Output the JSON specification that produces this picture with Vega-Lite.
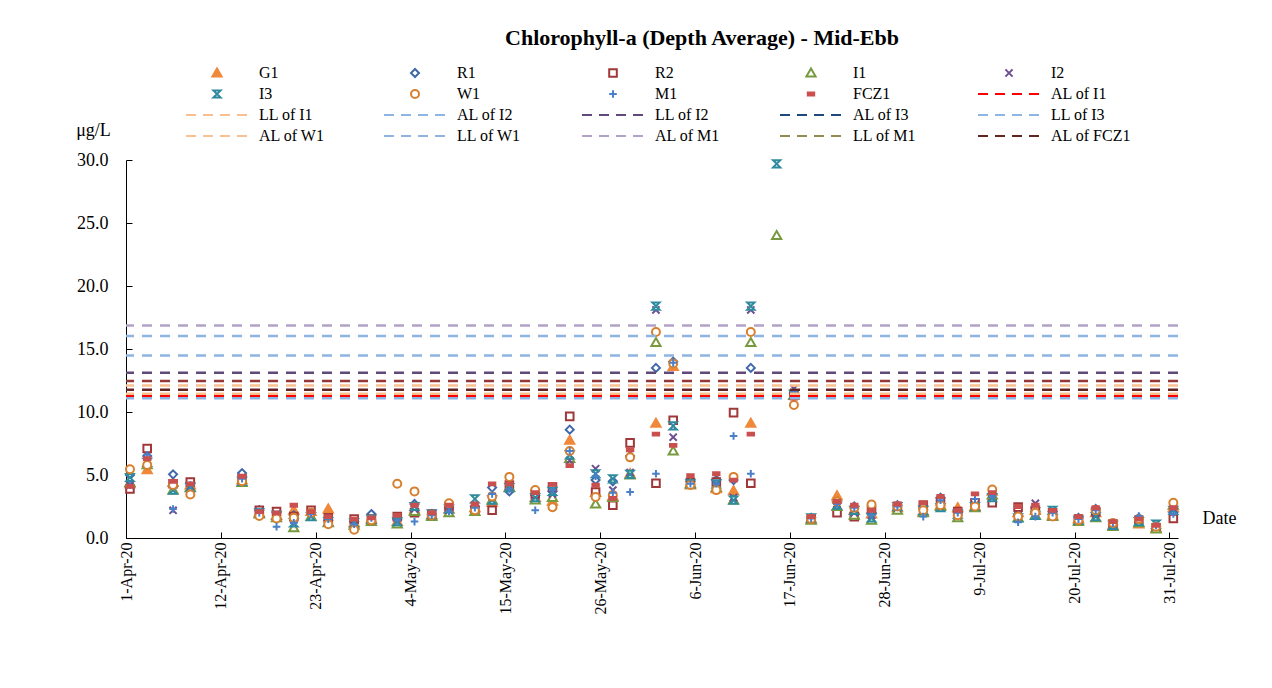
{
"$schema":"https://vega.github.io/schema/vega-lite/v6.json",
"width":1052,"height":378,"autosize":"none",
"padding":{"left":126,"top":160,"right":94,"bottom":150},
"background":"white",
"title":{"text":"Chlorophyll-a (Depth Average) - Mid-Ebb","font":"Liberation Serif","fontSize":22,"fontWeight":"bold","color":"black","anchor":"middle","frame":"group","dx":50,"offset":15},
"datasets":{
"chl":[
{"date":"2020-04-01T11:00","series":"G1","value":4.3},{"date":"2020-04-01T11:00","series":"R1","value":5.0},{"date":"2020-04-01T11:00","series":"R2","value":3.9},{"date":"2020-04-01T11:00","series":"I1","value":4.4},{"date":"2020-04-01T11:00","series":"I2","value":4.2},{"date":"2020-04-01T11:00","series":"I3","value":4.8},{"date":"2020-04-01T11:00","series":"W1","value":5.45},{"date":"2020-04-01T11:00","series":"M1","value":4.2},{"date":"2020-04-01T11:00","series":"FCZ1","value":4.1},
{"date":"2020-04-03T11:00","series":"G1","value":5.4},{"date":"2020-04-03T11:00","series":"R1","value":6.5},{"date":"2020-04-03T11:00","series":"R2","value":7.1},{"date":"2020-04-03T11:00","series":"I1","value":5.8},{"date":"2020-04-03T11:00","series":"I2","value":6.2},{"date":"2020-04-03T11:00","series":"I3","value":6.0},{"date":"2020-04-03T11:00","series":"W1","value":5.8},{"date":"2020-04-03T11:00","series":"M1","value":6.6},{"date":"2020-04-03T11:00","series":"FCZ1","value":6.3},
{"date":"2020-04-06T11:00","series":"G1","value":4.4},{"date":"2020-04-06T11:00","series":"R1","value":5.05},{"date":"2020-04-06T11:00","series":"R2","value":4.3},{"date":"2020-04-06T11:00","series":"I1","value":3.8},{"date":"2020-04-06T11:00","series":"I2","value":2.2},{"date":"2020-04-06T11:00","series":"I3","value":3.8},{"date":"2020-04-06T11:00","series":"W1","value":4.2},{"date":"2020-04-06T11:00","series":"M1","value":2.3},{"date":"2020-04-06T11:00","series":"FCZ1","value":4.5},
{"date":"2020-04-08T11:00","series":"G1","value":4.2},{"date":"2020-04-08T11:00","series":"R1","value":4.4},{"date":"2020-04-08T11:00","series":"R2","value":4.45},{"date":"2020-04-08T11:00","series":"I1","value":4.0},{"date":"2020-04-08T11:00","series":"I2","value":4.1},{"date":"2020-04-08T11:00","series":"I3","value":4.0},{"date":"2020-04-08T11:00","series":"W1","value":3.45},{"date":"2020-04-08T11:00","series":"M1","value":4.2},{"date":"2020-04-08T11:00","series":"FCZ1","value":4.3},
{"date":"2020-04-14T11:00","series":"G1","value":4.6},{"date":"2020-04-14T11:00","series":"R1","value":5.15},{"date":"2020-04-14T11:00","series":"R2","value":4.7},{"date":"2020-04-14T11:00","series":"I1","value":4.4},{"date":"2020-04-14T11:00","series":"I2","value":4.6},{"date":"2020-04-14T11:00","series":"I3","value":4.5},{"date":"2020-04-14T11:00","series":"W1","value":4.5},{"date":"2020-04-14T11:00","series":"M1","value":4.7},{"date":"2020-04-14T11:00","series":"FCZ1","value":4.9},
{"date":"2020-04-16T11:00","series":"G1","value":2.0},{"date":"2020-04-16T11:00","series":"R1","value":2.2},{"date":"2020-04-16T11:00","series":"R2","value":2.2},{"date":"2020-04-16T11:00","series":"I1","value":1.9},{"date":"2020-04-16T11:00","series":"I2","value":2.1},{"date":"2020-04-16T11:00","series":"I3","value":2.0},{"date":"2020-04-16T11:00","series":"W1","value":1.75},{"date":"2020-04-16T11:00","series":"M1","value":2.0},{"date":"2020-04-16T11:00","series":"FCZ1","value":2.1},
{"date":"2020-04-18T11:00","series":"G1","value":1.8},{"date":"2020-04-18T11:00","series":"R1","value":2.0},{"date":"2020-04-18T11:00","series":"R2","value":2.1},{"date":"2020-04-18T11:00","series":"I1","value":1.6},{"date":"2020-04-18T11:00","series":"I2","value":1.9},{"date":"2020-04-18T11:00","series":"I3","value":1.8},{"date":"2020-04-18T11:00","series":"W1","value":1.55},{"date":"2020-04-18T11:00","series":"M1","value":0.9},{"date":"2020-04-18T11:00","series":"FCZ1","value":2.0},
{"date":"2020-04-20T11:00","series":"G1","value":2.2},{"date":"2020-04-20T11:00","series":"R1","value":1.8},{"date":"2020-04-20T11:00","series":"R2","value":1.7},{"date":"2020-04-20T11:00","series":"I1","value":0.8},{"date":"2020-04-20T11:00","series":"I2","value":1.5},{"date":"2020-04-20T11:00","series":"I3","value":1.2},{"date":"2020-04-20T11:00","series":"W1","value":1.6},{"date":"2020-04-20T11:00","series":"M1","value":1.2},{"date":"2020-04-20T11:00","series":"FCZ1","value":2.6},
{"date":"2020-04-22T11:00","series":"G1","value":2.1},{"date":"2020-04-22T11:00","series":"R1","value":2.0},{"date":"2020-04-22T11:00","series":"R2","value":2.2},{"date":"2020-04-22T11:00","series":"I1","value":1.7},{"date":"2020-04-22T11:00","series":"I2","value":2.0},{"date":"2020-04-22T11:00","series":"I3","value":1.7},{"date":"2020-04-22T11:00","series":"W1","value":2.0},{"date":"2020-04-22T11:00","series":"M1","value":1.9},{"date":"2020-04-22T11:00","series":"FCZ1","value":2.1},
{"date":"2020-04-24T11:00","series":"G1","value":2.3},{"date":"2020-04-24T11:00","series":"R1","value":1.4},{"date":"2020-04-24T11:00","series":"R2","value":1.6},{"date":"2020-04-24T11:00","series":"I1","value":1.2},{"date":"2020-04-24T11:00","series":"I2","value":1.4},{"date":"2020-04-24T11:00","series":"I3","value":1.3},{"date":"2020-04-24T11:00","series":"W1","value":1.1},{"date":"2020-04-24T11:00","series":"M1","value":1.5},{"date":"2020-04-24T11:00","series":"FCZ1","value":1.7},
{"date":"2020-04-27T11:00","series":"G1","value":1.2},{"date":"2020-04-27T11:00","series":"R1","value":1.3},{"date":"2020-04-27T11:00","series":"R2","value":1.5},{"date":"2020-04-27T11:00","series":"I1","value":1.0},{"date":"2020-04-27T11:00","series":"I2","value":1.2},{"date":"2020-04-27T11:00","series":"I3","value":1.2},{"date":"2020-04-27T11:00","series":"W1","value":0.65},{"date":"2020-04-27T11:00","series":"M1","value":1.1},{"date":"2020-04-27T11:00","series":"FCZ1","value":1.5},
{"date":"2020-04-29T11:00","series":"G1","value":1.5},{"date":"2020-04-29T11:00","series":"R1","value":1.9},{"date":"2020-04-29T11:00","series":"R2","value":1.5},{"date":"2020-04-29T11:00","series":"I1","value":1.3},{"date":"2020-04-29T11:00","series":"I2","value":1.4},{"date":"2020-04-29T11:00","series":"I3","value":1.5},{"date":"2020-04-29T11:00","series":"W1","value":1.4},{"date":"2020-04-29T11:00","series":"M1","value":1.6},{"date":"2020-04-29T11:00","series":"FCZ1","value":1.6},
{"date":"2020-05-02T11:00","series":"G1","value":1.3},{"date":"2020-05-02T11:00","series":"R1","value":1.5},{"date":"2020-05-02T11:00","series":"R2","value":1.7},{"date":"2020-05-02T11:00","series":"I1","value":1.1},{"date":"2020-05-02T11:00","series":"I2","value":1.3},{"date":"2020-05-02T11:00","series":"I3","value":1.3},{"date":"2020-05-02T11:00","series":"W1","value":4.3},{"date":"2020-05-02T11:00","series":"M1","value":1.4},{"date":"2020-05-02T11:00","series":"FCZ1","value":1.8},
{"date":"2020-05-04T11:00","series":"G1","value":2.2},{"date":"2020-05-04T11:00","series":"R1","value":2.7},{"date":"2020-05-04T11:00","series":"R2","value":2.0},{"date":"2020-05-04T11:00","series":"I1","value":2.1},{"date":"2020-05-04T11:00","series":"I2","value":2.3},{"date":"2020-05-04T11:00","series":"I3","value":2.5},{"date":"2020-05-04T11:00","series":"W1","value":3.7},{"date":"2020-05-04T11:00","series":"M1","value":1.3},{"date":"2020-05-04T11:00","series":"FCZ1","value":2.6},
{"date":"2020-05-06T11:00","series":"G1","value":1.8},{"date":"2020-05-06T11:00","series":"R1","value":1.9},{"date":"2020-05-06T11:00","series":"R2","value":1.9},{"date":"2020-05-06T11:00","series":"I1","value":1.7},{"date":"2020-05-06T11:00","series":"I2","value":1.8},{"date":"2020-05-06T11:00","series":"I3","value":1.9},{"date":"2020-05-06T11:00","series":"W1","value":1.8},{"date":"2020-05-06T11:00","series":"M1","value":1.8},{"date":"2020-05-06T11:00","series":"FCZ1","value":2.0},
{"date":"2020-05-08T11:00","series":"G1","value":2.3},{"date":"2020-05-08T11:00","series":"R1","value":2.4},{"date":"2020-05-08T11:00","series":"R2","value":2.5},{"date":"2020-05-08T11:00","series":"I1","value":2.0},{"date":"2020-05-08T11:00","series":"I2","value":2.2},{"date":"2020-05-08T11:00","series":"I3","value":2.3},{"date":"2020-05-08T11:00","series":"W1","value":2.75},{"date":"2020-05-08T11:00","series":"M1","value":2.1},{"date":"2020-05-08T11:00","series":"FCZ1","value":2.6},
{"date":"2020-05-11T11:00","series":"G1","value":2.4},{"date":"2020-05-11T11:00","series":"R1","value":2.5},{"date":"2020-05-11T11:00","series":"R2","value":2.2},{"date":"2020-05-11T11:00","series":"I1","value":2.1},{"date":"2020-05-11T11:00","series":"I2","value":2.3},{"date":"2020-05-11T11:00","series":"I3","value":3.1},{"date":"2020-05-11T11:00","series":"W1","value":2.2},{"date":"2020-05-11T11:00","series":"M1","value":2.4},{"date":"2020-05-11T11:00","series":"FCZ1","value":2.7},
{"date":"2020-05-13T11:00","series":"G1","value":2.8},{"date":"2020-05-13T11:00","series":"R1","value":4.0},{"date":"2020-05-13T11:00","series":"R2","value":2.2},{"date":"2020-05-13T11:00","series":"I1","value":3.0},{"date":"2020-05-13T11:00","series":"I2","value":3.3},{"date":"2020-05-13T11:00","series":"I3","value":3.0},{"date":"2020-05-13T11:00","series":"W1","value":3.3},{"date":"2020-05-13T11:00","series":"M1","value":3.5},{"date":"2020-05-13T11:00","series":"FCZ1","value":4.3},
{"date":"2020-05-15T11:00","series":"G1","value":4.0},{"date":"2020-05-15T11:00","series":"R1","value":3.7},{"date":"2020-05-15T11:00","series":"R2","value":4.2},{"date":"2020-05-15T11:00","series":"I1","value":4.0},{"date":"2020-05-15T11:00","series":"I2","value":4.1},{"date":"2020-05-15T11:00","series":"I3","value":4.0},{"date":"2020-05-15T11:00","series":"W1","value":4.85},{"date":"2020-05-15T11:00","series":"M1","value":3.9},{"date":"2020-05-15T11:00","series":"FCZ1","value":4.3},
{"date":"2020-05-18T11:00","series":"G1","value":3.2},{"date":"2020-05-18T11:00","series":"R1","value":3.4},{"date":"2020-05-18T11:00","series":"R2","value":3.5},{"date":"2020-05-18T11:00","series":"I1","value":3.0},{"date":"2020-05-18T11:00","series":"I2","value":3.3},{"date":"2020-05-18T11:00","series":"I3","value":3.2},{"date":"2020-05-18T11:00","series":"W1","value":3.8},{"date":"2020-05-18T11:00","series":"M1","value":2.2},{"date":"2020-05-18T11:00","series":"FCZ1","value":3.6},
{"date":"2020-05-20T11:00","series":"G1","value":2.9},{"date":"2020-05-20T11:00","series":"R1","value":3.7},{"date":"2020-05-20T11:00","series":"R2","value":4.05},{"date":"2020-05-20T11:00","series":"I1","value":3.2},{"date":"2020-05-20T11:00","series":"I2","value":3.5},{"date":"2020-05-20T11:00","series":"I3","value":3.7},{"date":"2020-05-20T11:00","series":"W1","value":2.45},{"date":"2020-05-20T11:00","series":"M1","value":3.8},{"date":"2020-05-20T11:00","series":"FCZ1","value":4.25},
{"date":"2020-05-22T11:00","series":"G1","value":7.75},{"date":"2020-05-22T11:00","series":"R1","value":8.6},{"date":"2020-05-22T11:00","series":"R2","value":9.65},{"date":"2020-05-22T11:00","series":"I1","value":6.3},{"date":"2020-05-22T11:00","series":"I2","value":6.15},{"date":"2020-05-22T11:00","series":"I3","value":6.6},{"date":"2020-05-22T11:00","series":"W1","value":6.9},{"date":"2020-05-22T11:00","series":"M1","value":6.9},{"date":"2020-05-22T11:00","series":"FCZ1","value":5.75},
{"date":"2020-05-25T11:00","series":"G1","value":3.6},{"date":"2020-05-25T11:00","series":"R1","value":4.6},{"date":"2020-05-25T11:00","series":"R2","value":3.65},{"date":"2020-05-25T11:00","series":"I1","value":2.7},{"date":"2020-05-25T11:00","series":"I2","value":5.5},{"date":"2020-05-25T11:00","series":"I3","value":5.1},{"date":"2020-05-25T11:00","series":"W1","value":3.25},{"date":"2020-05-25T11:00","series":"M1","value":4.9},{"date":"2020-05-25T11:00","series":"FCZ1","value":4.2},
{"date":"2020-05-27T11:00","series":"G1","value":3.3},{"date":"2020-05-27T11:00","series":"R1","value":4.5},{"date":"2020-05-27T11:00","series":"R2","value":2.6},{"date":"2020-05-27T11:00","series":"I1","value":3.2},{"date":"2020-05-27T11:00","series":"I2","value":3.8},{"date":"2020-05-27T11:00","series":"I3","value":4.7},{"date":"2020-05-27T11:00","series":"W1","value":3.4},{"date":"2020-05-27T11:00","series":"M1","value":3.6},{"date":"2020-05-27T11:00","series":"FCZ1","value":3.15},
{"date":"2020-05-29T11:00","series":"G1","value":5.1},{"date":"2020-05-29T11:00","series":"R1","value":6.5},{"date":"2020-05-29T11:00","series":"R2","value":7.55},{"date":"2020-05-29T11:00","series":"I1","value":5.0},{"date":"2020-05-29T11:00","series":"I2","value":5.2},{"date":"2020-05-29T11:00","series":"I3","value":5.05},{"date":"2020-05-29T11:00","series":"W1","value":6.4},{"date":"2020-05-29T11:00","series":"M1","value":3.65},{"date":"2020-05-29T11:00","series":"FCZ1","value":7.0},
{"date":"2020-06-01T11:00","series":"G1","value":9.1},{"date":"2020-06-01T11:00","series":"R1","value":13.5},{"date":"2020-06-01T11:00","series":"R2","value":4.35},{"date":"2020-06-01T11:00","series":"I1","value":15.5},{"date":"2020-06-01T11:00","series":"I2","value":18.1},{"date":"2020-06-01T11:00","series":"I3","value":18.4},{"date":"2020-06-01T11:00","series":"W1","value":16.35},{"date":"2020-06-01T11:00","series":"M1","value":5.1},{"date":"2020-06-01T11:00","series":"FCZ1","value":8.25},
{"date":"2020-06-03T11:00","series":"G1","value":13.6},{"date":"2020-06-03T11:00","series":"R1","value":14.0},{"date":"2020-06-03T11:00","series":"R2","value":9.35},{"date":"2020-06-03T11:00","series":"I1","value":6.9},{"date":"2020-06-03T11:00","series":"I2","value":8.0},{"date":"2020-06-03T11:00","series":"I3","value":8.9},{"date":"2020-06-03T11:00","series":"W1","value":13.85},{"date":"2020-06-03T11:00","series":"M1","value":13.9},{"date":"2020-06-03T11:00","series":"FCZ1","value":7.35},
{"date":"2020-06-05T11:00","series":"G1","value":4.2},{"date":"2020-06-05T11:00","series":"R1","value":4.5},{"date":"2020-06-05T11:00","series":"R2","value":4.4},{"date":"2020-06-05T11:00","series":"I1","value":4.3},{"date":"2020-06-05T11:00","series":"I2","value":4.4},{"date":"2020-06-05T11:00","series":"I3","value":4.3},{"date":"2020-06-05T11:00","series":"W1","value":4.2},{"date":"2020-06-05T11:00","series":"M1","value":4.3},{"date":"2020-06-05T11:00","series":"FCZ1","value":4.95},
{"date":"2020-06-08T11:00","series":"G1","value":3.9},{"date":"2020-06-08T11:00","series":"R1","value":4.6},{"date":"2020-06-08T11:00","series":"R2","value":4.45},{"date":"2020-06-08T11:00","series":"I1","value":4.0},{"date":"2020-06-08T11:00","series":"I2","value":4.2},{"date":"2020-06-08T11:00","series":"I3","value":4.3},{"date":"2020-06-08T11:00","series":"W1","value":3.8},{"date":"2020-06-08T11:00","series":"M1","value":4.3},{"date":"2020-06-08T11:00","series":"FCZ1","value":5.1},
{"date":"2020-06-10T11:00","series":"G1","value":3.75},{"date":"2020-06-10T11:00","series":"R1","value":4.6},{"date":"2020-06-10T11:00","series":"R2","value":9.95},{"date":"2020-06-10T11:00","series":"I1","value":3.0},{"date":"2020-06-10T11:00","series":"I2","value":3.2},{"date":"2020-06-10T11:00","series":"I3","value":3.0},{"date":"2020-06-10T11:00","series":"W1","value":4.85},{"date":"2020-06-10T11:00","series":"M1","value":8.1},{"date":"2020-06-10T11:00","series":"FCZ1","value":4.6},
{"date":"2020-06-12T11:00","series":"G1","value":9.1},{"date":"2020-06-12T11:00","series":"R1","value":13.5},{"date":"2020-06-12T11:00","series":"R2","value":4.35},{"date":"2020-06-12T11:00","series":"I1","value":15.5},{"date":"2020-06-12T11:00","series":"I2","value":18.1},{"date":"2020-06-12T11:00","series":"I3","value":18.4},{"date":"2020-06-12T11:00","series":"W1","value":16.35},{"date":"2020-06-12T11:00","series":"M1","value":5.1},{"date":"2020-06-12T11:00","series":"FCZ1","value":8.25},
{"date":"2020-06-15T11:00","series":"I1","value":24.0},{"date":"2020-06-15T11:00","series":"I3","value":29.7},
{"date":"2020-06-17T11:00","series":"G1","value":11.3},{"date":"2020-06-17T11:00","series":"R1","value":11.5},{"date":"2020-06-17T11:00","series":"R2","value":11.4},{"date":"2020-06-17T11:00","series":"I1","value":11.3},{"date":"2020-06-17T11:00","series":"I2","value":11.85},{"date":"2020-06-17T11:00","series":"I3","value":11.4},{"date":"2020-06-17T11:00","series":"W1","value":10.55},{"date":"2020-06-17T11:00","series":"M1","value":11.6},{"date":"2020-06-17T11:00","series":"FCZ1","value":11.1},
{"date":"2020-06-19T11:00","series":"G1","value":1.5},{"date":"2020-06-19T11:00","series":"R1","value":1.6},{"date":"2020-06-19T11:00","series":"R2","value":1.5},{"date":"2020-06-19T11:00","series":"I1","value":1.4},{"date":"2020-06-19T11:00","series":"I2","value":1.5},{"date":"2020-06-19T11:00","series":"I3","value":1.6},{"date":"2020-06-19T11:00","series":"W1","value":1.5},{"date":"2020-06-19T11:00","series":"M1","value":1.55},{"date":"2020-06-19T11:00","series":"FCZ1","value":1.7},
{"date":"2020-06-22T11:00","series":"G1","value":3.35},{"date":"2020-06-22T11:00","series":"R1","value":2.8},{"date":"2020-06-22T11:00","series":"R2","value":2.0},{"date":"2020-06-22T11:00","series":"I1","value":2.5},{"date":"2020-06-22T11:00","series":"I2","value":2.7},{"date":"2020-06-22T11:00","series":"I3","value":2.6},{"date":"2020-06-22T11:00","series":"W1","value":2.9},{"date":"2020-06-22T11:00","series":"M1","value":2.7},{"date":"2020-06-22T11:00","series":"FCZ1","value":2.9},
{"date":"2020-06-24T11:00","series":"G1","value":2.2},{"date":"2020-06-24T11:00","series":"R1","value":2.5},{"date":"2020-06-24T11:00","series":"R2","value":1.7},{"date":"2020-06-24T11:00","series":"I1","value":1.8},{"date":"2020-06-24T11:00","series":"I2","value":2.0},{"date":"2020-06-24T11:00","series":"I3","value":2.2},{"date":"2020-06-24T11:00","series":"W1","value":2.4},{"date":"2020-06-24T11:00","series":"M1","value":2.4},{"date":"2020-06-24T11:00","series":"FCZ1","value":2.6},
{"date":"2020-06-26T11:00","series":"G1","value":1.9},{"date":"2020-06-26T11:00","series":"R1","value":2.0},{"date":"2020-06-26T11:00","series":"R2","value":2.2},{"date":"2020-06-26T11:00","series":"I1","value":1.4},{"date":"2020-06-26T11:00","series":"I2","value":1.8},{"date":"2020-06-26T11:00","series":"I3","value":1.6},{"date":"2020-06-26T11:00","series":"W1","value":2.65},{"date":"2020-06-26T11:00","series":"M1","value":1.8},{"date":"2020-06-26T11:00","series":"FCZ1","value":2.2},
{"date":"2020-06-29T11:00","series":"G1","value":2.4},{"date":"2020-06-29T11:00","series":"R1","value":2.6},{"date":"2020-06-29T11:00","series":"R2","value":2.5},{"date":"2020-06-29T11:00","series":"I1","value":2.2},{"date":"2020-06-29T11:00","series":"I2","value":2.4},{"date":"2020-06-29T11:00","series":"I3","value":2.5},{"date":"2020-06-29T11:00","series":"W1","value":2.5},{"date":"2020-06-29T11:00","series":"M1","value":2.5},{"date":"2020-06-29T11:00","series":"FCZ1","value":2.7},
{"date":"2020-07-02T11:00","series":"G1","value":2.1},{"date":"2020-07-02T11:00","series":"R1","value":2.5},{"date":"2020-07-02T11:00","series":"R2","value":2.6},{"date":"2020-07-02T11:00","series":"I1","value":2.0},{"date":"2020-07-02T11:00","series":"I2","value":2.3},{"date":"2020-07-02T11:00","series":"I3","value":2.2},{"date":"2020-07-02T11:00","series":"W1","value":2.2},{"date":"2020-07-02T11:00","series":"M1","value":1.7},{"date":"2020-07-02T11:00","series":"FCZ1","value":2.8},
{"date":"2020-07-04T11:00","series":"G1","value":2.6},{"date":"2020-07-04T11:00","series":"R1","value":3.2},{"date":"2020-07-04T11:00","series":"R2","value":2.9},{"date":"2020-07-04T11:00","series":"I1","value":2.5},{"date":"2020-07-04T11:00","series":"I2","value":2.7},{"date":"2020-07-04T11:00","series":"I3","value":2.4},{"date":"2020-07-04T11:00","series":"W1","value":2.6},{"date":"2020-07-04T11:00","series":"M1","value":3.0},{"date":"2020-07-04T11:00","series":"FCZ1","value":3.3},
{"date":"2020-07-06T11:00","series":"G1","value":2.4},{"date":"2020-07-06T11:00","series":"R1","value":2.0},{"date":"2020-07-06T11:00","series":"R2","value":2.1},{"date":"2020-07-06T11:00","series":"I1","value":1.6},{"date":"2020-07-06T11:00","series":"I2","value":1.8},{"date":"2020-07-06T11:00","series":"I3","value":1.9},{"date":"2020-07-06T11:00","series":"W1","value":1.8},{"date":"2020-07-06T11:00","series":"M1","value":2.0},{"date":"2020-07-06T11:00","series":"FCZ1","value":2.2},
{"date":"2020-07-08T11:00","series":"G1","value":2.5},{"date":"2020-07-08T11:00","series":"R1","value":2.5},{"date":"2020-07-08T11:00","series":"R2","value":2.8},{"date":"2020-07-08T11:00","series":"I1","value":2.4},{"date":"2020-07-08T11:00","series":"I2","value":2.6},{"date":"2020-07-08T11:00","series":"I3","value":2.5},{"date":"2020-07-08T11:00","series":"W1","value":2.5},{"date":"2020-07-08T11:00","series":"M1","value":3.1},{"date":"2020-07-08T11:00","series":"FCZ1","value":3.5},
{"date":"2020-07-10T11:00","series":"G1","value":3.7},{"date":"2020-07-10T11:00","series":"R1","value":3.5},{"date":"2020-07-10T11:00","series":"R2","value":2.8},{"date":"2020-07-10T11:00","series":"I1","value":3.4},{"date":"2020-07-10T11:00","series":"I2","value":3.5},{"date":"2020-07-10T11:00","series":"I3","value":3.2},{"date":"2020-07-10T11:00","series":"W1","value":3.85},{"date":"2020-07-10T11:00","series":"M1","value":3.3},{"date":"2020-07-10T11:00","series":"FCZ1","value":3.6},
{"date":"2020-07-13T11:00","series":"G1","value":2.0},{"date":"2020-07-13T11:00","series":"R1","value":1.8},{"date":"2020-07-13T11:00","series":"R2","value":2.45},{"date":"2020-07-13T11:00","series":"I1","value":1.6},{"date":"2020-07-13T11:00","series":"I2","value":1.8},{"date":"2020-07-13T11:00","series":"I3","value":1.6},{"date":"2020-07-13T11:00","series":"W1","value":1.7},{"date":"2020-07-13T11:00","series":"M1","value":1.25},{"date":"2020-07-13T11:00","series":"FCZ1","value":2.5},
{"date":"2020-07-15T11:00","series":"G1","value":2.2},{"date":"2020-07-15T11:00","series":"R1","value":2.4},{"date":"2020-07-15T11:00","series":"R2","value":2.2},{"date":"2020-07-15T11:00","series":"I1","value":1.8},{"date":"2020-07-15T11:00","series":"I2","value":2.75},{"date":"2020-07-15T11:00","series":"I3","value":1.8},{"date":"2020-07-15T11:00","series":"W1","value":2.0},{"date":"2020-07-15T11:00","series":"M1","value":1.7},{"date":"2020-07-15T11:00","series":"FCZ1","value":2.6},
{"date":"2020-07-17T11:00","series":"G1","value":1.8},{"date":"2020-07-17T11:00","series":"R1","value":2.1},{"date":"2020-07-17T11:00","series":"R2","value":2.0},{"date":"2020-07-17T11:00","series":"I1","value":1.7},{"date":"2020-07-17T11:00","series":"I2","value":1.9},{"date":"2020-07-17T11:00","series":"I3","value":2.2},{"date":"2020-07-17T11:00","series":"W1","value":1.7},{"date":"2020-07-17T11:00","series":"M1","value":2.0},{"date":"2020-07-17T11:00","series":"FCZ1","value":2.2},
{"date":"2020-07-20T11:00","series":"G1","value":1.5},{"date":"2020-07-20T11:00","series":"R1","value":1.6},{"date":"2020-07-20T11:00","series":"R2","value":1.5},{"date":"2020-07-20T11:00","series":"I1","value":1.3},{"date":"2020-07-20T11:00","series":"I2","value":1.5},{"date":"2020-07-20T11:00","series":"I3","value":1.4},{"date":"2020-07-20T11:00","series":"W1","value":1.4},{"date":"2020-07-20T11:00","series":"M1","value":1.5},{"date":"2020-07-20T11:00","series":"FCZ1","value":1.7},
{"date":"2020-07-22T11:00","series":"G1","value":2.0},{"date":"2020-07-22T11:00","series":"R1","value":2.3},{"date":"2020-07-22T11:00","series":"R2","value":2.1},{"date":"2020-07-22T11:00","series":"I1","value":1.6},{"date":"2020-07-22T11:00","series":"I2","value":1.9},{"date":"2020-07-22T11:00","series":"I3","value":1.7},{"date":"2020-07-22T11:00","series":"W1","value":2.2},{"date":"2020-07-22T11:00","series":"M1","value":2.2},{"date":"2020-07-22T11:00","series":"FCZ1","value":2.4},
{"date":"2020-07-24T11:00","series":"G1","value":1.0},{"date":"2020-07-24T11:00","series":"R1","value":1.1},{"date":"2020-07-24T11:00","series":"R2","value":1.1},{"date":"2020-07-24T11:00","series":"I1","value":0.9},{"date":"2020-07-24T11:00","series":"I2","value":1.0},{"date":"2020-07-24T11:00","series":"I3","value":1.0},{"date":"2020-07-24T11:00","series":"W1","value":1.2},{"date":"2020-07-24T11:00","series":"M1","value":1.2},{"date":"2020-07-24T11:00","series":"FCZ1","value":1.3},
{"date":"2020-07-27T11:00","series":"G1","value":1.1},{"date":"2020-07-27T11:00","series":"R1","value":1.6},{"date":"2020-07-27T11:00","series":"R2","value":1.4},{"date":"2020-07-27T11:00","series":"I1","value":1.2},{"date":"2020-07-27T11:00","series":"I2","value":1.4},{"date":"2020-07-27T11:00","series":"I3","value":1.3},{"date":"2020-07-27T11:00","series":"W1","value":1.5},{"date":"2020-07-27T11:00","series":"M1","value":1.75},{"date":"2020-07-27T11:00","series":"FCZ1","value":1.5},
{"date":"2020-07-29T11:00","series":"G1","value":0.8},{"date":"2020-07-29T11:00","series":"R1","value":0.9},{"date":"2020-07-29T11:00","series":"R2","value":0.8},{"date":"2020-07-29T11:00","series":"I1","value":0.7},{"date":"2020-07-29T11:00","series":"I2","value":0.9},{"date":"2020-07-29T11:00","series":"I3","value":1.1},{"date":"2020-07-29T11:00","series":"W1","value":0.9},{"date":"2020-07-29T11:00","series":"M1","value":1.0},{"date":"2020-07-29T11:00","series":"FCZ1","value":1.0},
{"date":"2020-07-31T11:00","series":"G1","value":2.4},{"date":"2020-07-31T11:00","series":"R1","value":2.0},{"date":"2020-07-31T11:00","series":"R2","value":1.55},{"date":"2020-07-31T11:00","series":"I1","value":2.6},{"date":"2020-07-31T11:00","series":"I2","value":2.1},{"date":"2020-07-31T11:00","series":"I3","value":2.2},{"date":"2020-07-31T11:00","series":"W1","value":2.8},{"date":"2020-07-31T11:00","series":"M1","value":1.9},{"date":"2020-07-31T11:00","series":"FCZ1","value":2.4}
],
"limits":[
{"series":"AL of M1","level":16.87},
{"series":"LL of I3","level":16.03},
{"series":"LL of W1","level":14.49},
{"series":"LL of I2","level":13.12},
{"series":"LL of I1","level":12.1},
{"series":"AL of FCZ1","level":11.76},
{"series":"AL of W1","level":11.45},
{"series":"AL of I1","level":11.25},
{"series":"AL of I2","level":11.09}
],
"extra":[{"series":"other level","level":12.46}]
},
"layer":[
{"data":{"name":"chl"},
 "mark":{"type":"point","size":64,"strokeWidth":2,"opacity":1},
 "encoding":{
  "x":{"field":"date","type":"temporal",
   "scale":{"domain":[{"year":2020,"month":4,"date":1},{"year":2020,"month":8,"date":1}]},
   "axis":{"values":[{"year":2020,"month":4,"date":1},{"year":2020,"month":4,"date":12},{"year":2020,"month":4,"date":23},{"year":2020,"month":5,"date":4},{"year":2020,"month":5,"date":15},{"year":2020,"month":5,"date":26},{"year":2020,"month":6,"date":6},{"year":2020,"month":6,"date":17},{"year":2020,"month":6,"date":28},{"year":2020,"month":7,"date":9},{"year":2020,"month":7,"date":20},{"year":2020,"month":7,"date":31}],
    "format":"%-d-%b-%y","labelAngle":270,"labelFontSize":16,"labelPadding":10,"tickSize":-6,
    "title":"Date","titleFontSize":18,"titleX":1093,"titleY":-20,"titleAlign":"center","titleBaseline":"middle","titleAngle":0}},
  "y":{"field":"value","type":"quantitative","scale":{"domain":[0,30],"nice":false},
   "axis":{"values":[0,5,10,15,20,25,30],"format":".1f","labelFontSize":18,"labelPadding":24,"tickSize":-6,
    "title":"μg/L","titleFontSize":18,"titleAngle":0,"titleX":-33,"titleY":-30,"titleAlign":"center","titleBaseline":"middle"}},
  "stroke":{"field":"series","type":"nominal","legend":{"title":null},
   "scale":{"domain":["G1","R1","R2","I1","I2","I3","W1","M1","FCZ1","AL of I1","LL of I1","AL of I2","LL of I2","AL of I3","LL of I3","AL of W1","LL of W1","AL of M1","LL of M1","AL of FCZ1"],
    "range":["#F0883A","#3F68AA","#A0383A","#789A3F","#6E4F92","#2F8A9E","#D7802F","#4A7FC9","#C9504F","#FF0000","#FAC090","#8DB4E2","#604A7B","#1F497D","#8DB4E2","#FAC090","#8DB4E2","#B3A2C7","#948A54","#632523"]}},
  "fill":{"field":"series","type":"nominal","legend":{"title":null},
   "scale":{"domain":["G1","R1","R2","I1","I2","I3","W1","M1","FCZ1","AL of I1","LL of I1","AL of I2","LL of I2","AL of I3","LL of I3","AL of W1","LL of W1","AL of M1","LL of M1","AL of FCZ1"],
    "range":["#F0883A","white","white","white","white","white","white","white","#C9504F","transparent","transparent","transparent","transparent","transparent","transparent","transparent","transparent","transparent","transparent","transparent"]}},
  "shape":{"field":"series","type":"nominal","legend":{"title":null},
   "scale":{"domain":["G1","R1","R2","I1","I2","I3","W1","M1","FCZ1","AL of I1","LL of I1","AL of I2","LL of I2","AL of I3","LL of I3","AL of W1","LL of W1","AL of M1","LL of M1","AL of FCZ1"],
    "range":["M-7.75,0M7.75,0M0,-1.15L1.15,0.85H-1.15Z","M-7.75,0M7.75,0M0,-1L1,0L0,1L-1,0Z","M-7.75,0M7.75,0M-0.95,-0.95H0.95V0.95H-0.95Z","M-7.75,0M7.75,0M0,-1.15L1.15,0.85H-1.15Z","M-7.75,0M7.75,0M-0.9,-0.9L0.9,0.9M0.9,-0.9L-0.9,0.9","M-7.75,0M7.75,0M-0.9,-0.9H0.9L-0.9,0.9H0.9Z","M-7.75,0M7.75,0M-1,0A1,1,0,1,0,1,0A1,1,0,1,0,-1,0Z","M-7.75,0M7.75,0M-0.95,0H0.95M0,-0.95V0.95","M-7.75,0M7.75,0M-0.8,-0.35H0.8V0.35H-0.8Z",
     "M-7.75,0H-5.25M-3.5,0H-1M0.75,0H3.25M5,0H7.5M7.75,0","M-7.75,0H-5.25M-3.5,0H-1M0.75,0H3.25M5,0H7.5M7.75,0","M-7.75,0H-5.25M-3.5,0H-1M0.75,0H3.25M5,0H7.5M7.75,0","M-7.75,0H-5.25M-3.5,0H-1M0.75,0H3.25M5,0H7.5M7.75,0","M-7.75,0H-5.25M-3.5,0H-1M0.75,0H3.25M5,0H7.5M7.75,0","M-7.75,0H-5.25M-3.5,0H-1M0.75,0H3.25M5,0H7.5M7.75,0","M-7.75,0H-5.25M-3.5,0H-1M0.75,0H3.25M5,0H7.5M7.75,0","M-7.75,0H-5.25M-3.5,0H-1M0.75,0H3.25M5,0H7.5M7.75,0","M-7.75,0H-5.25M-3.5,0H-1M0.75,0H3.25M5,0H7.5M7.75,0","M-7.75,0H-5.25M-3.5,0H-1M0.75,0H3.25M5,0H7.5M7.75,0","M-7.75,0H-5.25M-3.5,0H-1M0.75,0H3.25M5,0H7.5M7.75,0"]}}
 }},
{"data":{"name":"extra"},
 "mark":{"type":"rule","strokeDash":[10,8],"strokeWidth":2.5,"color":"#953735"},
 "encoding":{"y":{"field":"level","type":"quantitative"}}},
{"data":{"name":"limits"},
 "mark":{"type":"rule","strokeDash":[10,8],"strokeWidth":2.5},
 "encoding":{"y":{"field":"level","type":"quantitative"},
  "stroke":{"field":"series","type":"nominal","legend":{"title":null}}}}
],
"config":{
 "font":"Liberation Serif",
 "view":{"stroke":null},
 "axis":{"grid":false,"domainColor":"#000000","tickColor":"#000000","labelColor":"#000000","titleColor":"#000000","labelFont":"Liberation Serif","titleFont":"Liberation Serif","titleFontWeight":"normal","domainWidth":1},
 "legend":{"orient":"none","legendX":83,"legendY":-95,"columns":5,"direction":"horizontal","symbolSize":64,"symbolStrokeWidth":2,"symbolOpacity":1,"labelFont":"Liberation Serif","labelFontSize":16,"labelColor":"#000000","labelOffset":34,"columnPadding":41,"rowPadding":5,"gridAlign":"all","labelLimit":200}
}
}
